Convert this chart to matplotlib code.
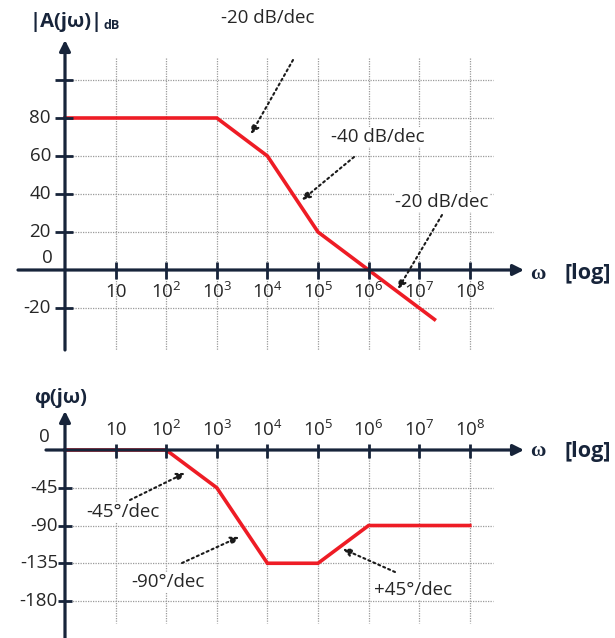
import numpy as np
import matplotlib
matplotlib.use("Agg")
import matplotlib.pyplot as plt

plt.rcParams['font.family'] = ['Open Sans', 'DejaVu Sans']
plt.rcParams['mathtext.fontset'] = 'custom'
plt.rcParams['mathtext.rm'] = 'Open Sans'

# ---------------- data ----------------
decade_ticks = [1e1, 1e2, 1e3, 1e4, 1e5, 1e6, 1e7, 1e8]
decade_labels = ['10', r'$\mathrm{10^{2}}$', r'$\mathrm{10^{3}}$', r'$\mathrm{10^{4}}$',
                 r'$\mathrm{10^{5}}$', r'$\mathrm{10^{6}}$', r'$\mathrm{10^{7}}$', r'$\mathrm{10^{8}}$']

mag_omega = [1, 1e3, 1e4, 1e5, 1e6, 2e7]
mag_db = [80, 80, 60, 20, 0, -26]
mag_yticks = [100, 80, 60, 40, 20, -20]
mag_ylabels = ['', '80', '60', '40', '20', '-20']

phase_omega = [1, 1e2, 1e3, 1e4, 1e5, 1e6, 1e8]
phase_deg = [0, 0, -45, -135, -135, -90, -90]
phase_yticks = [-45, -90, -135, -180]
phase_ylabels = ['-45', '-90', '-135', '-180']

mag_notes = ['-20 dB/dec', '-40 dB/dec', '-20 dB/dec']
phase_notes = ['-45°/dec', '-90°/dec', '+45°/dec']

# ---------------- style ----------------
W, H = 615, 638
AX = '#17243a'
RED = '#ee1c25'
TXT = '#262626'
GRID = '#9a9a9a'
DEC = 50.6          # pixels per decade
X0 = 65             # pixel x of omega = 1
FS_TICK = 13.5
FS_NOTE = 13.5
FS_TITLE = 14.5

fig = plt.figure(figsize=(W / 100, H / 100), dpi=100)

def lw10(px):
    return 10 ** ((px - X0) / DEC)

xlim = (lw10(0), lw10(W))

# magnitude axes covering pixel rows 0..365
MY0, MS = 270, 1.9
ax1 = fig.add_axes([0, (H - 365) / H, 1, 365 / H])
ax1.set_xscale('log')
ax1.set_xlim(*xlim)
ax1.set_ylim((MY0 - 365) / MS, MY0 / MS)
ax1.axis('off')

# phase axes covering pixel rows 365..638
PY0, PS = 450, 0.839
ax2 = fig.add_axes([0, 0, 1, 273 / H])
ax2.set_xscale('log')
ax2.set_xlim(*xlim)
ax2.set_ylim((PY0 - 638) / PS, (PY0 - 365) / PS)
ax2.axis('off')

def mdb(py):
    return (MY0 - py) / MS

def pdeg(py):
    return (PY0 - py) / PS

grid_kw = dict(color=GRID, lw=0.9, ls=(0, (1, 1)), zorder=1)
axis_arrow = dict(arrowstyle='-|>', lw=2.3, color=AX, mutation_scale=16, shrinkA=0, shrinkB=0)

# ---- magnitude grid ----
gx_right = lw10(493)
for v in mag_yticks:
    ax1.plot([1, gx_right], [v, v], **grid_kw)
for w in decade_ticks:
    ax1.plot([w, w], [mdb(58), mdb(350)], **grid_kw)

# ---- magnitude axes ----
ax1.annotate('', xy=(lw10(524), 0), xytext=(lw10(18), 0), arrowprops=axis_arrow, zorder=4)
ax1.annotate('', xy=(1, mdb(40)), xytext=(1, mdb(350)), arrowprops=axis_arrow, zorder=4)
for w, lab in zip(decade_ticks, decade_labels):
    ax1.plot([w, w], [mdb(262), mdb(279)], color=AX, lw=2.0, zorder=4, solid_capstyle='butt')
    ax1.text(w, mdb(292), lab, ha='center', va='center', fontsize=FS_TICK, color=TXT, zorder=5)
for v, lab in zip(mag_yticks, mag_ylabels):
    ax1.plot([lw10(55), lw10(73)], [v, v], color=AX, lw=2.0, zorder=4, solid_capstyle='butt')
    if lab:
        ax1.text(lw10(51), v, lab, ha='right', va='center', fontsize=FS_TICK, color=TXT)
ax1.text(lw10(53), mdb(258), '0', ha='right', va='center', fontsize=FS_TICK, color=TXT)

# ---- magnitude curve ----
ax1.plot(mag_omega, mag_db, color=RED, lw=2.6, zorder=3, solid_joinstyle='miter')

# titles
ax1.text(lw10(30), mdb(27), '|A(jω)|', ha='left', va='baseline', fontsize=FS_TITLE,
         fontweight='bold', color=AX)
ax1.text(lw10(104), mdb(29), 'dB', ha='left', va='baseline', fontsize=9,
         fontweight='bold', color=AX)
ax1.text(lw10(538), mdb(274), 'ω', ha='center', va='center', fontsize=15,
         fontweight='bold', color=AX, family='Liberation Serif')
ax1.text(lw10(565), mdb(274), '[log]', ha='left', va='center', fontsize=15.5,
         fontweight='bold', color=AX)

# annotations
note_kw = dict(ha='center', va='center', fontsize=FS_NOTE, color=TXT, zorder=6,
               bbox=dict(fc='white', ec='none', pad=1.0))
arrow_kw = dict(arrowstyle='-|>', lw=1.5, color='#1a1a1a', ls=(0, (1, 1.6)),
                mutation_scale=12, shrinkA=0, shrinkB=0)
mag_note_pos = [(268, 18), (378, 137), (442, 202)]
mag_arrow = [((293, 60), (251, 134)), ((354, 157), (302, 200)), ((442, 215), (398, 289))]
for txt, (px, py), (s, e) in zip(mag_notes, mag_note_pos, mag_arrow):
    ax1.text(lw10(px), mdb(py), txt, **note_kw)
    ax1.annotate('', xy=(lw10(e[0]), mdb(e[1])), xytext=(lw10(s[0]), mdb(s[1])),
                 arrowprops=arrow_kw, zorder=7)

# ---- phase grid ----
for v in phase_yticks:
    ax2.plot([1, gx_right], [v, v], **grid_kw)
for w in decade_ticks:
    ax2.plot([w, w], [0, pdeg(623)], **grid_kw)

# ---- phase axes ----
ax2.annotate('', xy=(lw10(524), 0), xytext=(lw10(46), 0), arrowprops=axis_arrow, zorder=4)
ax2.annotate('', xy=(1, pdeg(411)), xytext=(1, pdeg(640)), arrowprops=axis_arrow, zorder=4)
for w, lab in zip(decade_ticks, decade_labels):
    ax2.plot([w, w], [pdeg(444), pdeg(458)], color=AX, lw=2.0, zorder=4, solid_capstyle='butt')
    ax2.text(w, pdeg(430), lab, ha='center', va='center', fontsize=FS_TICK, color=TXT, zorder=5)
for v, lab in zip(phase_yticks, phase_ylabels):
    ax2.plot([lw10(58), lw10(72)], [v, v], color=AX, lw=2.0, zorder=4, solid_capstyle='butt')
    ax2.text(lw10(58), v, lab, ha='right', va='center', fontsize=FS_TICK, color=TXT)
ax2.text(lw10(50), pdeg(437), '0', ha='right', va='center', fontsize=FS_TICK, color=TXT)

# ---- phase curve ----
ax2.plot(phase_omega, phase_deg, color=RED, lw=2.6, zorder=3, solid_joinstyle='miter')

ax2.text(lw10(34), pdeg(398), 'φ(jω)', ha='left', va='center', fontsize=FS_TITLE,
         fontweight='bold', color=AX)
ax2.text(lw10(538), pdeg(451), 'ω', ha='center', va='center', fontsize=15,
         fontweight='bold', color=AX, family='Liberation Serif')
ax2.text(lw10(565), pdeg(451), '[log]', ha='left', va='center', fontsize=15.5,
         fontweight='bold', color=AX)

phase_note_pos = [(123, 512), (168, 582), (413, 590)]
phase_arrow = [((130, 500), (185, 473)), ((182, 563), (239, 537)), ((395, 572), (343, 549))]
for txt, (px, py), (s, e) in zip(phase_notes, phase_note_pos, phase_arrow):
    ax2.text(lw10(px), pdeg(py), txt, **note_kw)
    ax2.annotate('', xy=(lw10(e[0]), pdeg(e[1])), xytext=(lw10(s[0]), pdeg(s[1])),
                 arrowprops=arrow_kw, zorder=7)

fig.savefig('out.png', dpi=100)
